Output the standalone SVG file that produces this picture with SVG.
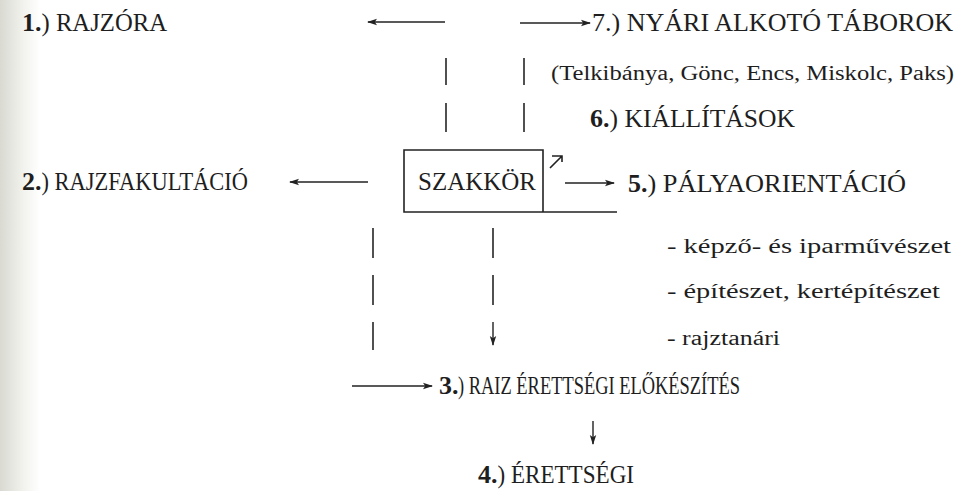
<svg xmlns="http://www.w3.org/2000/svg" width="956" height="491" viewBox="0 0 956 491">
<defs>
<linearGradient id="edge" x1="0" y1="0" x2="1" y2="0">
<stop offset="0" stop-color="#d9d9d2"/>
<stop offset="0.5" stop-color="#efefea"/>
<stop offset="1" stop-color="#ffffff"/>
</linearGradient>
<marker id="ah" viewBox="0 0 10 8" refX="9" refY="4" markerWidth="10" markerHeight="8" markerUnits="userSpaceOnUse" orient="auto">
<path d="M0,0.8 L10,4 L0,7.2 L2.2,4 Z" fill="#222"/>
</marker>
<style>
text{font-family:"Liberation Serif","Times New Roman",serif;fill:#1e1e1e;}
.lbl{font-size:26px;}
.sub{font-size:20.5px;}
.b{font-weight:bold;}
.ar{stroke:#222;stroke-width:1.4;fill:none;marker-end:url(#ah);}
.bar{stroke:#333;stroke-width:1.7;fill:none;}
.box{stroke:#222;stroke-width:1.6;fill:none;}
</style>
</defs>
<rect x="0" y="0" width="956" height="491" fill="#ffffff"/>
<rect x="0" y="0" width="40" height="491" fill="url(#edge)"/>
<g id="n1"><text class="lbl b" x="22" y="31">1.</text><text class="lbl" x="41.5" y="31" textLength="125.5" lengthAdjust="spacingAndGlyphs">) RAJZÓRA</text></g>
<g id="n7"><text class="lbl" x="592" y="31" textLength="361" lengthAdjust="spacingAndGlyphs">7.) NYÁRI ALKOTÓ TÁBOROK</text>
<text class="sub" x="551" y="80" textLength="403" lengthAdjust="spacingAndGlyphs">(Telkibánya, Gönc, Encs, Miskolc, Paks)</text></g>
<g id="n6"><text class="lbl b" x="590" y="127">6.</text><text class="lbl" x="609.5" y="127" textLength="185.5" lengthAdjust="spacingAndGlyphs">) KIÁLLÍTÁSOK</text></g>
<g id="szakkor"><path class="box" d="M404,150 H543 V212 H404 Z M543,212 H617"/>
<text class="lbl" x="418" y="190" textLength="118" lengthAdjust="spacingAndGlyphs">SZAKKÖR</text></g>
<g id="n2"><text class="lbl b" x="22" y="190">2.</text><text class="lbl" x="41.5" y="190" textLength="206.5" lengthAdjust="spacingAndGlyphs">) RAJZFAKULTÁCIÓ</text></g>
<g id="n5"><text class="lbl b" x="628" y="192">5.</text><text class="lbl" x="647.5" y="192" textLength="258.5" lengthAdjust="spacingAndGlyphs">) PÁLYAORIENTÁCIÓ</text>
<text class="sub" x="667" y="253" textLength="284" lengthAdjust="spacingAndGlyphs">- képző- és iparművészet</text>
<text class="sub" x="667" y="298" textLength="273" lengthAdjust="spacingAndGlyphs">- építészet, kertépítészet</text>
<text class="sub" x="667" y="345" textLength="113" lengthAdjust="spacingAndGlyphs">- rajztanári</text></g>
<g id="n3"><text class="lbl b" x="439" y="394">3.</text><text class="lbl" x="458" y="394" textLength="282" lengthAdjust="spacingAndGlyphs">) RAIZ ÉRETTSÉGI ELŐKÉSZÍTÉS</text></g>
<g id="n4"><text class="lbl b" x="478" y="483">4.</text><text class="lbl" x="497.5" y="483" textLength="136.5" lengthAdjust="spacingAndGlyphs">) ÉRETTSÉGI</text></g>
<g id="connectors">
<path class="ar" d="M445,22 H368"/>
<path class="ar" d="M520,23 H590"/>
<path class="bar" d="M446,58 V85 M446,103 V132 M524,58 V85 M524,103 V132"/>
<path class="ar" d="M368,182 H290"/>
<path class="ar" d="M565,183 H614"/>
<path d="M552,156 H562 V162 M562,156 L550,168" stroke="#222" stroke-width="1.6" fill="none"/>
<path class="bar" d="M373,228 V258 M373,275 V305 M373,322 V350 M493,228 V258 M493,275 V305"/>
<path class="ar" d="M493,322 V345"/>
<path class="ar" d="M352,386 H432"/>
<path class="ar" d="M593,421 V444"/>
</g>
</svg>
